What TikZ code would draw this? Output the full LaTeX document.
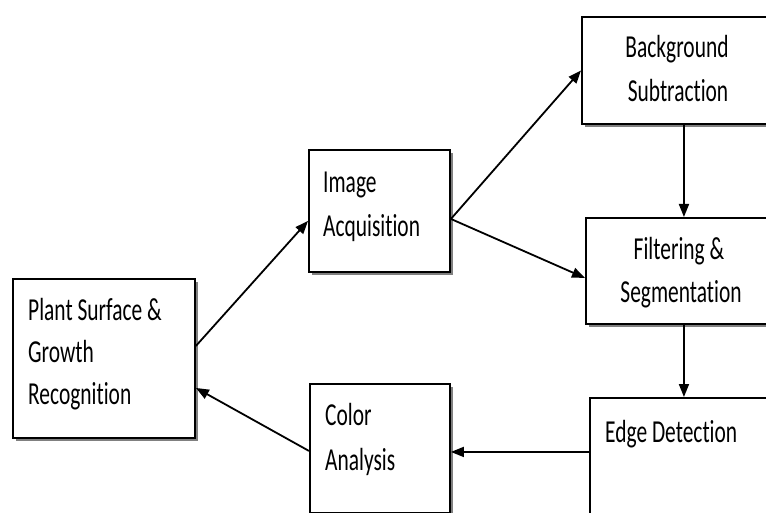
\documentclass[tikz,border=0pt]{standalone}
\usepackage{fontspec}
\setmainfont{Carlito}[FakeStretch=0.67, Ligatures={NoCommon}]
\usetikzlibrary{arrows.meta,shadows}
\begin{document}
\begin{tikzpicture}[x=1pt,y=-1pt,
 box/.style={draw=black, line width=1.9pt, fill=white, rectangle, inner sep=0pt, anchor=north west,
   drop shadow={shadow xshift=3pt, shadow yshift=-3pt, fill=black!50, opacity=1}},
 lbl/.style={inner sep=0pt, font=\fontsize{32}{40}\selectfont, anchor=base west},
 clbl/.style={lbl, anchor=base},
 arr/.style={line width=1.8pt, -{Triangle[length=13pt,width=10pt]}}]
\useasboundingbox (0,0) rectangle (766,513);
\fill[white] (0,0) rectangle (766,513);
\clip (0,0) rectangle (766,513);
% boxes
\node[box, minimum width=182pt, minimum height=159pt] (plant) at (12,278) {};
\node[box, minimum width=141pt, minimum height=122pt] (image) at (308,149) {};
\node[box, minimum width=204pt, minimum height=107pt] (bg) at (581,16) {};
\node[box, minimum width=196pt, minimum height=106pt] (filt) at (585,217) {};
\node[box, minimum width=188pt, minimum height=133pt] (edge) at (589,397) {};
\node[box, minimum width=140pt, minimum height=129pt] (color) at (309,383) {};
% labels
\node[lbl] (p1) at (28,320) {Plant Surface \&};
\node[lbl] (p2) at (28,362) {Growth};
\node[lbl] (p3) at (28,404) {Recognition};
\node[lbl] (i1) at (323,193) {Image};
\node[lbl] (i2) at (323,237) {Acquisition};
\node[clbl] (b1) at (677,58) {Background};
\node[clbl] (b2) at (678,102) {Subtraction};
\node[clbl] (f1) at (679,260) {Filtering \&};
\node[clbl] (f2) at (681,302) {Segmentation};
\node[lbl] (e1) at (605,442) {Edge Detection};
\node[lbl] (c1) at (325,425) {Color};
\node[lbl] (c2) at (325,470) {Analysis};
% connectors
\draw[arr] ([yshift=12.5pt]plant.east) -- ([yshift=-10pt]image.west);
\draw[arr] ([yshift=-8pt]image.east) -- (bg.west);
\draw[arr] ([yshift=-8pt]image.east) -- ([yshift=-7pt]filt.west);
\draw[arr] (bg.south) -- (filt.north);
\draw[arr] (filt.south) -- (edge.north);
\draw[arr] ([yshift=12.5pt]edge.west) -- ([yshift=-3.5pt]color.east);
\draw[arr] ([yshift=-2.5pt]color.west) -- ([yshift=-29.5pt]plant.east);
\end{tikzpicture}
\end{document}
